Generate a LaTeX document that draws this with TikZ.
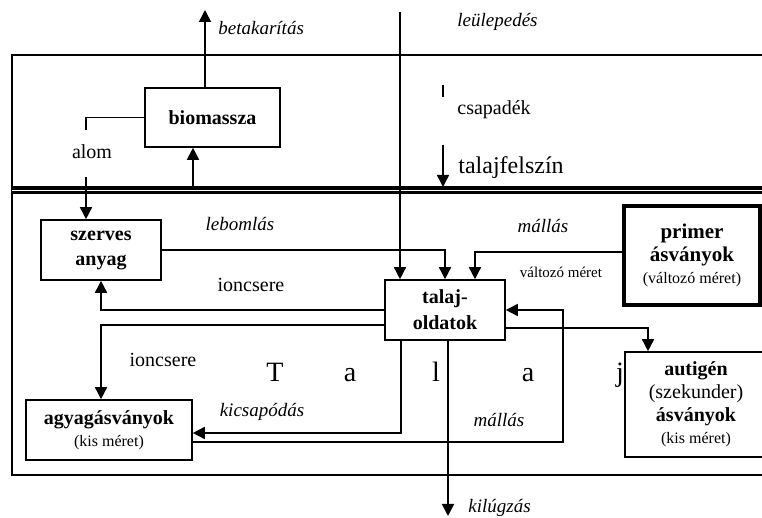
\documentclass[tikz,border=0pt]{standalone}
\usepackage{fontspec}
\setmainfont{Liberation Serif}
\usepackage{tikz}
\usetikzlibrary{arrows.meta}
\tikzset{%
    box/.style={%
        draw, line width=0.8pt, align=center, inner sep=0pt,
        font=\fontsize{10}{12.5}\selectfont\bfseries},
    flow/.style={line width=0.8pt, -{Triangle[width=6pt,length=6pt]}},
    note/.style={inner sep=0pt, font=\fontsize{10}{12}\selectfont},
    itnote/.style={inner sep=0pt, font=\fontsize{9.5}{11}\selectfont\itshape}
}

\begin{document}
\begin{tikzpicture}[x=0.5pt,y=-0.5pt]
    \useasboundingbox (0,0) rectangle (762,518);
    \draw[line width=0.8pt] (790,55) -| (12,475) -- (790,475);
    \draw[line width=1.8pt, double, double distance=0.25pt] (12,190) -- (790,190);

    \node[box, minimum width=67.5pt, minimum height=29.5pt] (bio) at (212.5,117.5) {biomassza};
    \node[box, minimum width=60pt, minimum height=30pt] (szerv) at (101,250) {szerves\\anyag};
    \node[box, minimum width=68pt, minimum height=49.5pt, line width=2pt,
        font=\fontsize{10.5}{11.3}\selectfont\bfseries] (primer) at (692,255.5)
        {primer\\ásványok\\{\mdseries\fontsize{8}{9}\selectfont(változó méret)}};
    \node[box, minimum width=60pt, minimum height=30pt, font=\fontsize{10}{13}\selectfont\bfseries]
        (oldat) at (445,310) {talaj-\\oldatok};
    \node[box, minimum width=83pt, minimum height=30pt, font=\fontsize{10}{11}\selectfont\bfseries]
        (agyag) at (109,430) {agyagásványok\\{\mdseries\fontsize{8}{9}\selectfont(kis méret)}};
    \node[box, minimum width=71pt, minimum height=52.5pt, font=\fontsize{10}{11.3}\selectfont\bfseries]
        (autig) at (696,404.5)
        {autigén\\{\mdseries(szekunder)}\\ásványok\\{\mdseries\fontsize{8}{9}\selectfont(kis méret)}};

    \node[itnote, anchor=west] (betak) at (218,28) {betakarítás};
    \node[itnote, anchor=west] (leul) at (457,22) {leülepedés};
    \node[note, anchor=west] (csap) at (457,110) {csapadék};
    \node[note, anchor=west, font=\fontsize{12}{14}\selectfont] (felsz) at (458,168) {talajfelszín};
    \node[note] (alom) at (92,152) {alom};
    \node[itnote] (lebom) at (240,224) {lebomlás};
    \node[itnote] (mall1) at (543,226) {mállás};
    \node[note, font=\fontsize{7.5}{9}\selectfont] (valt) at (561,272) {változó méret};
    \node[note] (ion1) at (251,285) {ioncsere};
    \node[note] (ion2) at (163,360) {ioncsere};
    \node[itnote] (kics) at (262,412) {kicsapódás};
    \node[itnote] (mall2) at (499,420) {mállás};
    \node[itnote, anchor=west] (kilug) at (468,508) {kilúgzás};
    \foreach \c/\x in {T/275,a/350,l/436,a/528,j/620}
    {
    \node[font=\fontsize{14}{16}\selectfont, anchor=base] (let\x) at (\x,382) {\c};
    }

    \coordinate (bt) at (205,10);
    \coordinate (al1) at (86,130);
    \coordinate (al2) at (86,177);
    \coordinate (bu) at (193,190);
    \coordinate (le) at (400,12);
    \coordinate (cs1) at (443,85);
    \coordinate (cs2) at (443,97);
    \coordinate (cs3) at (443,145);
    \coordinate (cs4) at (443,187);
    \coordinate (ma) at (563,376);
    \coordinate (kl) at (448,516);

    \draw[flow] (bt |- bio.north) -- (bt);
    \draw[line width=0.8pt] (bio.west) -| (al1);
    \draw[flow] (al2) -- (al2 |- szerv.north);
    \draw[flow] (bu) -- (bu |- bio.south);
    \draw[flow] (le) -- (le |- oldat.north);
    \draw[line width=0.8pt] (cs1) -- (cs2);
    \draw[flow] (cs3) -- (cs4);
    \draw[flow] (szerv.east) -| (oldat.north);
    \draw[flow] ([yshift=1.75pt]primer.west) -| ([xshift=15pt]oldat.north);
    \draw[flow] (oldat.west) -| (szerv.south);
    \draw[flow] ([yshift=-7.5pt]oldat.west) -| (szerv.south |- agyag.north);
    \draw[flow] ([xshift=-22pt]oldat.south) |- ([yshift=-1.5pt]agyag.east);
    \draw[flow] ([yshift=-6pt]agyag.east) -| (ma) |- (oldat.east);
    \draw[flow] (kl |- oldat.south) -- (kl);
    \draw[flow] ([yshift=-9pt]oldat.east) -| ([xshift=-24pt]autig.north);
\end{tikzpicture}
\end{document}
